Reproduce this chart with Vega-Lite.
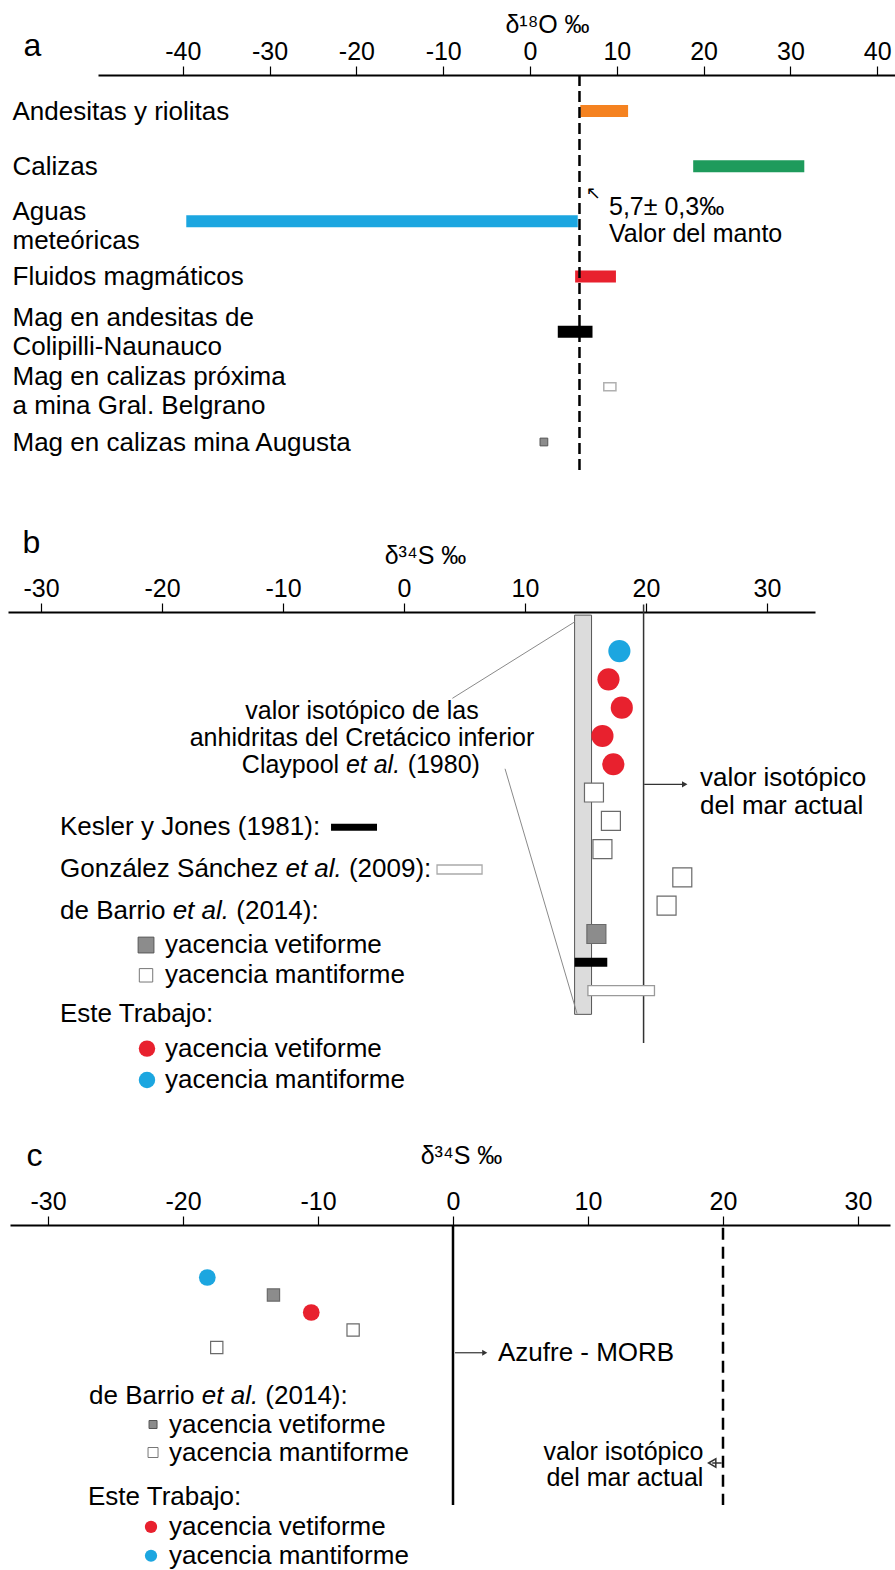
{
  "$schema": "https://vega.github.io/schema/vega-lite/v6.json",
  "background": "white",
  "padding": {"left": 0, "top": 12, "right": 0, "bottom": 0},
  "bounds": "flush",
  "spacing": 137,
  "resolve": {"scale": {"color": "independent", "fill": "independent"}},
  "config": {
    "font": "Liberation Sans",
    "view": {"stroke": null},
    "axis": {"grid": false, "labelColor": "black", "titleColor": "black", "tickColor": "black", "domainColor": "black", "titleFontWeight": "normal", "labelFontSize": 25, "titleFontSize": 25},
    "text": {"fontSize": 26, "align": "left", "baseline": "middle", "color": "black"}
  },
  "datasets": {
    "a": [
      {"muestra": "Andesitas y riolitas", "min": 5.8, "max": 11.3},
      {"muestra": "Calizas", "min": 18.8, "max": 31.6},
      {"muestra": "Aguas meteóricas", "min": -39.6, "max": 5.5},
      {"muestra": "Fluidos magmáticos", "min": 5.2, "max": 9.9},
      {"muestra": "Mag en andesitas de Colipilli-Naunauco", "min": 3.2, "max": 7.2},
      {"muestra": "Mag en calizas próxima a mina Gral. Belgrano", "min": 8.5, "max": 9.9},
      {"muestra": "Mag en calizas mina Augusta", "min": 1.6, "max": 1.6}
    ],
    "b": [
      {"fuente": "Este Trabajo", "tipo": "yacencia mantiforme", "fila": 1, "d34S": 17.8},
      {"fuente": "Este Trabajo", "tipo": "yacencia vetiforme", "fila": 2, "d34S": 16.9},
      {"fuente": "Este Trabajo", "tipo": "yacencia vetiforme", "fila": 3, "d34S": 18.0},
      {"fuente": "Este Trabajo", "tipo": "yacencia vetiforme", "fila": 4, "d34S": 16.4},
      {"fuente": "Este Trabajo", "tipo": "yacencia vetiforme", "fila": 5, "d34S": 17.3},
      {"fuente": "de Barrio et al. (2014)", "tipo": "yacencia mantiforme", "fila": 6, "d34S": 15.7},
      {"fuente": "de Barrio et al. (2014)", "tipo": "yacencia mantiforme", "fila": 7, "d34S": 17.1},
      {"fuente": "de Barrio et al. (2014)", "tipo": "yacencia mantiforme", "fila": 8, "d34S": 16.4},
      {"fuente": "de Barrio et al. (2014)", "tipo": "yacencia mantiforme", "fila": 9, "d34S": 23.0},
      {"fuente": "de Barrio et al. (2014)", "tipo": "yacencia mantiforme", "fila": 10, "d34S": 21.7},
      {"fuente": "de Barrio et al. (2014)", "tipo": "yacencia vetiforme", "fila": 11, "d34S": 15.9},
      {"fuente": "Kesler y Jones (1981)", "fila": 12, "min": 14.1, "max": 16.8},
      {"fuente": "González Sánchez et al. (2009)", "fila": 13, "min": 15.2, "max": 20.7}
    ],
    "c": [
      {"fuente": "Este Trabajo", "tipo": "yacencia mantiforme", "fila": 1, "d34S": -18.2},
      {"fuente": "de Barrio et al. (2014)", "tipo": "yacencia vetiforme", "fila": 2, "d34S": -13.3},
      {"fuente": "Este Trabajo", "tipo": "yacencia vetiforme", "fila": 3, "d34S": -10.5},
      {"fuente": "de Barrio et al. (2014)", "tipo": "yacencia mantiforme", "fila": 4, "d34S": -7.4},
      {"fuente": "de Barrio et al. (2014)", "tipo": "yacencia mantiforme", "fila": 5, "d34S": -17.5}
    ]
  },
  "vconcat": [
    {
      "width": 895,
      "height": 400,
      "layer": [
        {
          "data": {"name": "a"},
          "transform": [{"filter": "datum.muestra != 'Mag en calizas próxima a mina Gral. Belgrano' && datum.muestra != 'Mag en calizas mina Augusta'"}],
          "mark": {"type": "bar", "height": 12},
          "encoding": {
            "x": {"field": "min", "type": "quantitative",
              "scale": {"domain": [-49.77, 42.05], "range": [98, 895], "nice": false, "zero": false},
              "axis": {"orient": "top", "values": [-40, -30, -20, -10, 0, 10, 20, 30, 40], "labelExpr": "'' + datum.value", "tickSize": 9, "tickWidth": 1.2, "domainWidth": 2, "labelPadding": 2, "labelFlush": false, "labelOverlap": false, "title": "δ¹⁸O ‰", "titleX": 547, "titleY": -51, "titleAlign": "center", "titleBaseline": "middle"}},
            "x2": {"field": "max"},
            "y": {"field": "muestra", "type": "nominal",
              "scale": {"type": "point", "domain": ["Andesitas y riolitas", "Calizas", "Aguas meteóricas", "Fluidos magmáticos", "Mag en andesitas de Colipilli-Naunauco", "Mag en calizas próxima a mina Gral. Belgrano", "Mag en calizas mina Augusta"], "range": [36, 367], "padding": 0},
              "axis": {"title": "a", "titleAngle": 0, "titleX": 32, "titleY": -30, "titleFontSize": 32, "titleAlign": "center", "titleBaseline": "middle", "domain": false, "ticks": false, "labelAlign": "left", "labelBaseline": "middle", "labelPadding": -12, "labelFontSize": 26, "labelLimit": 0, "labelOverlap": false, "labelLineHeight": 29,
                "labelOffset": {"expr": "datum.value == 'Mag en andesitas de Colipilli-Naunauco' ? -14 : (datum.value == 'Aguas meteóricas' || datum.value == 'Mag en calizas próxima a mina Gral. Belgrano') ? -10 : 0"},
                "labelExpr": "datum.value == 'Aguas meteóricas' ? ['Aguas', 'meteóricas'] : datum.value == 'Mag en andesitas de Colipilli-Naunauco' ? ['Mag en andesitas de', 'Colipilli-Naunauco'] : datum.value == 'Mag en calizas próxima a mina Gral. Belgrano' ? ['Mag en calizas próxima', 'a mina Gral. Belgrano'] : datum.label"}},
            "color": {"field": "muestra", "type": "nominal",
              "scale": {"domain": ["Andesitas y riolitas", "Calizas", "Aguas meteóricas", "Fluidos magmáticos", "Mag en andesitas de Colipilli-Naunauco"], "range": ["#F58220", "#1E9B5C", "#1CA6E0", "#E8212E", "#000000"]},
              "legend": null}
          }
        },
        {
          "data": {"name": "a"},
          "transform": [{"filter": "datum.muestra == 'Mag en calizas próxima a mina Gral. Belgrano'"}],
          "mark": {"type": "bar", "height": 8, "fill": "white", "stroke": "#b0b0b0", "strokeWidth": 1.5},
          "encoding": {"x": {"field": "min", "type": "quantitative"}, "x2": {"field": "max"}, "y": {"field": "muestra", "type": "nominal"}}
        },
        {
          "data": {"name": "a"},
          "transform": [{"filter": "datum.muestra == 'Mag en calizas mina Augusta'"}],
          "mark": {"type": "square", "size": 60, "color": "#8c8c8c", "stroke": "#555555", "strokeWidth": 1, "opacity": 1},
          "encoding": {"x": {"field": "min", "type": "quantitative"}, "y": {"field": "muestra", "type": "nominal"}}
        },
        {
          "data": {"values": [{}]},
          "mark": {"type": "rule", "strokeDash": [11, 5], "strokeWidth": 2.5, "color": "black"},
          "encoding": {"x": {"datum": 5.7}}
        },
        {
          "data": {"values": [{}]},
          "mark": {"type": "text", "fontSize": 25, "lineBreak": "\n", "lineHeight": 27, "dy": -14},
          "encoding": {"x": {"datum": 9.1}, "y": {"datum": "Aguas meteóricas"}, "text": {"value": "5,7± 0,3‰\nValor del manto"}}
        },
        {
          "data": {"values": [{}]},
          "mark": {"type": "text", "fontSize": 18, "align": "center", "dy": -27, "font": "DejaVu Sans"},
          "encoding": {"x": {"datum": 7.3}, "y": {"datum": "Aguas meteóricas"}, "text": {"value": "↖"}}
        }
      ]
    },
    {
      "width": 895,
      "height": 476,
      "layer": [
        {
          "data": {"values": [{}]},
          "mark": {"type": "rect", "fill": "#dcdcdc", "stroke": "#555555", "strokeWidth": 1},
          "encoding": {
            "x": {"datum": 14.1, "type": "quantitative",
              "scale": {"domain": [-32.727, 33.967], "range": [8, 815], "nice": false, "zero": false},
              "axis": {"orient": "top", "values": [-30, -20, -10, 0, 10, 20, 30], "labelExpr": "'' + datum.value", "tickSize": 9, "tickWidth": 1.2, "domainWidth": 2, "labelPadding": 2, "labelFlush": false, "labelOverlap": false, "title": "δ³⁴S ‰", "titleX": 425, "titleY": -57, "titleAlign": "center", "titleBaseline": "middle"}},
            "x2": {"datum": 15.5},
            "y": {"datum": -0.27, "type": "quantitative",
              "scale": {"domain": [-0.204, 16.266], "reverse": true, "nice": false, "zero": false},
              "axis": {"title": "b", "titleAngle": 0, "titleX": 31, "titleY": -70, "titleFontSize": 32, "titleAlign": "center", "titleBaseline": "middle", "labels": false, "ticks": false, "domain": false}},
            "y2": {"datum": 13.84}
          }
        },
        {
          "data": {"values": [{}]},
          "mark": {"type": "rule", "color": "#333333", "strokeWidth": 1.5},
          "encoding": {"x": {"datum": 19.8}, "y": {"datum": -0.65}, "y2": {"datum": 14.85}}
        },
        {
          "data": {"values": [{}]},
          "mark": {"type": "rule", "color": "#8a8a8a", "strokeWidth": 1},
          "encoding": {"x": {"datum": 4.0}, "y": {"datum": 2.67}, "x2": {"datum": 14.1}, "y2": {"datum": -0.03}}
        },
        {
          "data": {"values": [{}]},
          "mark": {"type": "rule", "color": "#8a8a8a", "strokeWidth": 1},
          "encoding": {"x": {"datum": 8.35}, "y": {"datum": 5.16}, "x2": {"datum": 14.3}, "y2": {"datum": 13.81}}
        },
        {
          "data": {"values": [{}]},
          "mark": {"type": "rule", "color": "#333333", "strokeWidth": 1.2},
          "encoding": {"x": {"datum": 19.85}, "x2": {"datum": 23.0}, "y": {"datum": 5.71}}
        },
        {
          "data": {"values": [{}]},
          "mark": {"type": "point", "shape": "triangle-right", "filled": true, "color": "#333333", "size": 40, "opacity": 1},
          "encoding": {"x": {"datum": 23.2}, "y": {"datum": 5.71}}
        },
        {
          "data": {"name": "b"},
          "transform": [{"filter": "datum.fuente == 'Este Trabajo'"}],
          "mark": {"type": "circle", "size": 490, "opacity": 1},
          "encoding": {
            "x": {"field": "d34S", "type": "quantitative"},
            "y": {"field": "fila", "type": "quantitative"},
            "color": {"field": "tipo", "type": "nominal", "scale": {"domain": ["yacencia vetiforme", "yacencia mantiforme"], "range": ["#E8212E", "#1CA6E0"]}, "legend": null}
          }
        },
        {
          "data": {"name": "b"},
          "transform": [{"filter": "datum.fuente == 'de Barrio et al. (2014)'"}],
          "mark": {"type": "square", "size": 360, "opacity": 1, "stroke": "#6a6a6a", "strokeWidth": 1.2},
          "encoding": {
            "x": {"field": "d34S", "type": "quantitative"},
            "y": {"field": "fila", "type": "quantitative"},
            "fill": {"field": "tipo", "type": "nominal", "scale": {"domain": ["yacencia vetiforme", "yacencia mantiforme"], "range": ["#8C8C8C", "#FFFFFF"]}, "legend": null}
          }
        },
        {
          "data": {"name": "b"},
          "transform": [{"filter": "datum.fuente == 'Kesler y Jones (1981)'"}],
          "mark": {"type": "bar", "height": 9, "color": "black"},
          "encoding": {"x": {"field": "min", "type": "quantitative"}, "x2": {"field": "max"}, "y": {"field": "fila", "type": "quantitative"}}
        },
        {
          "data": {"name": "b"},
          "transform": [{"filter": "datum.fuente == 'González Sánchez et al. (2009)'"}],
          "mark": {"type": "bar", "height": 10, "fill": "white", "stroke": "#9a9a9a", "strokeWidth": 1.3},
          "encoding": {"x": {"field": "min", "type": "quantitative"}, "x2": {"field": "max"}, "y": {"field": "fila", "type": "quantitative"}}
        },
        {"data": {"values": [{}]}, "mark": {"type": "text", "align": "center", "fontSize": 25}, "encoding": {"x": {"datum": -3.47}, "y": {"datum": 3.12}, "text": {"value": "valor isotópico de las"}}},
        {"data": {"values": [{}]}, "mark": {"type": "text", "align": "center", "fontSize": 25}, "encoding": {"x": {"datum": -3.47}, "y": {"datum": 4.07}, "text": {"value": "anhidritas del Cretácico inferior"}}},
        {"data": {"values": [{}]}, "mark": {"type": "text", "fontSize": 25}, "encoding": {"x": {"datum": -13.4}, "y": {"datum": 5.02}, "text": {"value": "Claypool"}}},
        {"data": {"values": [{}]}, "mark": {"type": "text", "fontStyle": "italic", "fontSize": 25}, "encoding": {"x": {"datum": -4.8}, "y": {"datum": 5.02}, "text": {"value": "et al."}}},
        {"data": {"values": [{}]}, "mark": {"type": "text", "fontSize": 25}, "encoding": {"x": {"datum": 0.3}, "y": {"datum": 5.02}, "text": {"value": "(1980)"}}},
        {"data": {"values": [{}]}, "mark": {"type": "text", "lineBreak": "\n", "lineHeight": 28}, "encoding": {"x": {"datum": 24.46}, "y": {"datum": 5.5}, "text": {"value": "valor isotópico\ndel mar actual"}}},
        {"data": {"values": [{}]}, "mark": {"type": "text"}, "encoding": {"x": {"datum": -28.43}, "y": {"datum": 7.23}, "text": {"value": "Kesler y Jones (1981):"}}},
        {"data": {"values": [{}]}, "mark": {"type": "bar", "height": 7, "color": "black"}, "encoding": {"x": {"datum": -6.03}, "x2": {"datum": -2.23}, "y": {"datum": 7.23}}},
        {"data": {"values": [{}]}, "mark": {"type": "text"}, "encoding": {"x": {"datum": -28.43}, "y": {"datum": 8.72}, "text": {"value": "González Sánchez"}}},
        {"data": {"values": [{}]}, "mark": {"type": "text", "fontStyle": "italic"}, "encoding": {"x": {"datum": -9.8}, "y": {"datum": 8.72}, "text": {"value": "et al."}}},
        {"data": {"values": [{}]}, "mark": {"type": "text"}, "encoding": {"x": {"datum": -4.55}, "y": {"datum": 8.72}, "text": {"value": "(2009):"}}},
        {"data": {"values": [{}]}, "mark": {"type": "bar", "height": 9, "fill": "white", "stroke": "#aaaaaa", "strokeWidth": 1.3}, "encoding": {"x": {"datum": 2.73}, "x2": {"datum": 6.45}, "y": {"datum": 8.72}}},
        {"data": {"values": [{}]}, "mark": {"type": "text"}, "encoding": {"x": {"datum": -28.43}, "y": {"datum": 10.19}, "text": {"value": "de Barrio"}}},
        {"data": {"values": [{}]}, "mark": {"type": "text", "fontStyle": "italic"}, "encoding": {"x": {"datum": -19.12}, "y": {"datum": 10.19}, "text": {"value": "et al."}}},
        {"data": {"values": [{}]}, "mark": {"type": "text"}, "encoding": {"x": {"datum": -13.86}, "y": {"datum": 10.19}, "text": {"value": "(2014):"}}},
        {"data": {"values": [{}]}, "mark": {"type": "square", "size": 250, "color": "#8C8C8C", "stroke": "#555555", "strokeWidth": 1, "opacity": 1}, "encoding": {"x": {"datum": -21.32}, "y": {"datum": 11.39}}},
        {"data": {"values": [{}]}, "mark": {"type": "text"}, "encoding": {"x": {"datum": -19.75}, "y": {"datum": 11.39}, "text": {"value": "yacencia vetiforme"}}},
        {"data": {"values": [{}]}, "mark": {"type": "square", "size": 180, "color": "white", "stroke": "#777777", "strokeWidth": 1, "opacity": 1}, "encoding": {"x": {"datum": -21.32}, "y": {"datum": 12.46}}},
        {"data": {"values": [{}]}, "mark": {"type": "text"}, "encoding": {"x": {"datum": -19.75}, "y": {"datum": 12.46}, "text": {"value": "yacencia mantiforme"}}},
        {"data": {"values": [{}]}, "mark": {"type": "text"}, "encoding": {"x": {"datum": -28.43}, "y": {"datum": 13.84}, "text": {"value": "Este Trabajo:"}}},
        {"data": {"values": [{}]}, "mark": {"type": "circle", "size": 270, "color": "#E8212E", "opacity": 1}, "encoding": {"x": {"datum": -21.24}, "y": {"datum": 15.05}}},
        {"data": {"values": [{}]}, "mark": {"type": "text"}, "encoding": {"x": {"datum": -19.75}, "y": {"datum": 15.05}, "text": {"value": "yacencia vetiforme"}}},
        {"data": {"values": [{}]}, "mark": {"type": "circle", "size": 270, "color": "#1CA6E0", "opacity": 1}, "encoding": {"x": {"datum": -21.24}, "y": {"datum": 16.16}}},
        {"data": {"values": [{}]}, "mark": {"type": "text"}, "encoding": {"x": {"datum": -19.75}, "y": {"datum": 16.16}, "text": {"value": "yacencia mantiforme"}}}
      ]
    },
    {
      "width": 895,
      "height": 350,
      "layer": [
        {
          "data": {"values": [{}]},
          "mark": {"type": "rule", "color": "black", "strokeWidth": 2.5},
          "encoding": {
            "x": {"datum": 0, "type": "quantitative",
              "scale": {"domain": [-32.815, 32.37], "range": [10, 890], "nice": false, "zero": false},
              "axis": {"orient": "top", "values": [-30, -20, -10, 0, 10, 20, 30], "labelExpr": "'' + datum.value", "tickSize": 9, "tickWidth": 1.2, "domainWidth": 2, "labelPadding": 2, "labelFlush": false, "labelOverlap": false, "title": "δ³⁴S ‰", "titleX": 461, "titleY": -70, "titleAlign": "center", "titleBaseline": "middle"}},
            "y": {"datum": -2, "type": "quantitative",
              "scale": {"domain": [-2, 18], "reverse": true, "nice": false, "zero": false},
              "axis": {"title": "c", "titleAngle": 0, "titleX": 34, "titleY": -70, "titleFontSize": 32, "titleAlign": "center", "titleBaseline": "middle", "labels": false, "ticks": false, "domain": false}},
            "y2": {"datum": 14.0}
          }
        },
        {
          "data": {"values": [{}]},
          "mark": {"type": "rule", "color": "black", "strokeWidth": 2.5, "strokeDash": [12, 7]},
          "encoding": {"x": {"datum": 20}, "y": {"datum": -1.85}, "y2": {"datum": 14.0}}
        },
        {
          "data": {"name": "c"},
          "transform": [{"filter": "datum.fuente == 'Este Trabajo'"}],
          "mark": {"type": "circle", "size": 280, "opacity": 1},
          "encoding": {
            "x": {"field": "d34S", "type": "quantitative"},
            "y": {"field": "fila", "type": "quantitative"},
            "color": {"field": "tipo", "type": "nominal", "scale": {"domain": ["yacencia vetiforme", "yacencia mantiforme"], "range": ["#E8212E", "#1CA6E0"]}, "legend": null}
          }
        },
        {
          "data": {"name": "c"},
          "transform": [{"filter": "datum.fuente == 'de Barrio et al. (2014)'"}],
          "mark": {"type": "square", "size": 150, "opacity": 1, "stroke": "#6a6a6a", "strokeWidth": 1.2},
          "encoding": {
            "x": {"field": "d34S", "type": "quantitative"},
            "y": {"field": "fila", "type": "quantitative"},
            "fill": {"field": "tipo", "type": "nominal", "scale": {"domain": ["yacencia vetiforme", "yacencia mantiforme"], "range": ["#8C8C8C", "#FFFFFF"]}, "legend": null}
          }
        },
        {"data": {"values": [{}]}, "mark": {"type": "rule", "color": "#333333", "strokeWidth": 1.2}, "encoding": {"x": {"datum": 0.15}, "x2": {"datum": 2.2}, "y": {"datum": 5.3}}},
        {"data": {"values": [{}]}, "mark": {"type": "point", "shape": "triangle-right", "filled": true, "color": "#333333", "size": 35, "opacity": 1}, "encoding": {"x": {"datum": 2.35}, "y": {"datum": 5.3}}},
        {"data": {"values": [{}]}, "mark": {"type": "text"}, "encoding": {"x": {"datum": 3.33}, "y": {"datum": 5.3}, "text": {"value": "Azufre - MORB"}}},
        {"data": {"values": [{}]}, "mark": {"type": "text", "align": "right", "fontSize": 25, "lineBreak": "\n", "lineHeight": 26}, "encoding": {"x": {"datum": 18.55}, "y": {"datum": 10.95}, "text": {"value": "valor isotópico\ndel mar actual"}}},
        {"data": {"values": [{}]}, "mark": {"type": "rule", "color": "#333333", "strokeWidth": 1.5}, "encoding": {"x": {"datum": 19.9}, "x2": {"datum": 19.2}, "y": {"datum": 11.6}}},
        {"data": {"values": [{}]}, "mark": {"type": "point", "shape": "triangle-left", "filled": false, "color": "#333333", "strokeWidth": 1.5, "size": 70, "opacity": 1}, "encoding": {"x": {"datum": 19.2}, "y": {"datum": 11.6}}},
        {"data": {"values": [{}]}, "mark": {"type": "text"}, "encoding": {"x": {"datum": -26.96}, "y": {"datum": 7.75}, "text": {"value": "de Barrio"}}},
        {"data": {"values": [{}]}, "mark": {"type": "text", "fontStyle": "italic"}, "encoding": {"x": {"datum": -18.61}, "y": {"datum": 7.75}, "text": {"value": "et al."}}},
        {"data": {"values": [{}]}, "mark": {"type": "text"}, "encoding": {"x": {"datum": -13.9}, "y": {"datum": 7.75}, "text": {"value": "(2014):"}}},
        {"data": {"values": [{}]}, "mark": {"type": "square", "size": 64, "color": "#8C8C8C", "stroke": "#555555", "strokeWidth": 1, "opacity": 1}, "encoding": {"x": {"datum": -22.22}, "y": {"datum": 9.4}}},
        {"data": {"values": [{}]}, "mark": {"type": "text"}, "encoding": {"x": {"datum": -21.04}, "y": {"datum": 9.4}, "text": {"value": "yacencia vetiforme"}}},
        {"data": {"values": [{}]}, "mark": {"type": "square", "size": 100, "color": "white", "stroke": "#777777", "strokeWidth": 1, "opacity": 1}, "encoding": {"x": {"datum": -22.22}, "y": {"datum": 11.0}}},
        {"data": {"values": [{}]}, "mark": {"type": "text"}, "encoding": {"x": {"datum": -21.04}, "y": {"datum": 11.0}, "text": {"value": "yacencia mantiforme"}}},
        {"data": {"values": [{}]}, "mark": {"type": "text"}, "encoding": {"x": {"datum": -27.04}, "y": {"datum": 13.57}, "text": {"value": "Este Trabajo:"}}},
        {"data": {"values": [{}]}, "mark": {"type": "circle", "size": 150, "color": "#E8212E", "opacity": 1}, "encoding": {"x": {"datum": -22.37}, "y": {"datum": 15.25}}},
        {"data": {"values": [{}]}, "mark": {"type": "text"}, "encoding": {"x": {"datum": -21.04}, "y": {"datum": 15.25}, "text": {"value": "yacencia vetiforme"}}},
        {"data": {"values": [{}]}, "mark": {"type": "circle", "size": 150, "color": "#1CA6E0", "opacity": 1}, "encoding": {"x": {"datum": -22.37}, "y": {"datum": 16.9}}},
        {"data": {"values": [{}]}, "mark": {"type": "text"}, "encoding": {"x": {"datum": -21.04}, "y": {"datum": 16.9}, "text": {"value": "yacencia mantiforme"}}}
      ]
    }
  ]
}
